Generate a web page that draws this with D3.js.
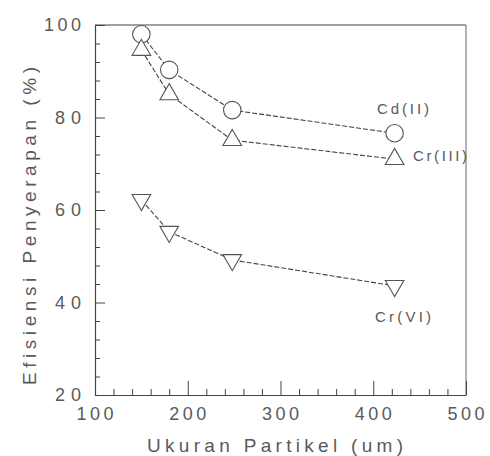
<!DOCTYPE html>
<html><head><meta charset="utf-8">
<script src="https://cdn.jsdelivr.net/npm/d3@7"></script>
<style>body{margin:0;background:#fff}svg{display:block}text{font-family:"Liberation Sans",Arial,sans-serif;fill:#5a5a5a}</style>
</head><body><svg id="c" width="490" height="456"></svg>
<script>
const particleSize = [150, 180, 248, 423];
const cdII  = [98, 90.3, 81.6, 76.6];
const crIII = [94.6, 85, 75.1, 71];
const crVI  = [62.2, 55.3, 49.2, 43.6];
const xTicks = [100, 200, 300, 400, 500];
const yTicks = [20, 40, 60, 80, 100];
const seriesNames = ["Cd(II)", "Cr(III)", "Cr(VI)"];

const svg = d3.select("#c");
const x = d3.scaleLinear().domain([100, 500]).range([95, 466]);
const y = d3.scaleLinear().domain([20, 100]).range([395, 25]);
const stroke = "#444";

// frame
svg.append("line").attr("x1", x(100)).attr("x2", x(500)).attr("y1", y(100)).attr("y2", y(100)).attr("stroke", stroke).attr("stroke-width", 1.2);
svg.append("line").attr("x1", x(500)).attr("x2", x(500)).attr("y1", y(100)).attr("y2", y(20)).attr("stroke", "#666").attr("stroke-width", 1);

// left axis (ticks inward)
const yAxis = d3.axisRight(y).tickValues(d3.range(20, 100.1, 4)).tickSize(0).tickFormat("");
const gy = svg.append("g").attr("transform", `translate(${x(100)},0)`).call(yAxis);
gy.select(".domain").attr("stroke", stroke).attr("stroke-width", 1.2);
gy.selectAll(".tick line").attr("x2", d => (d % 20 === 0 ? 10 : 5)).attr("stroke", stroke);
yTicks.forEach(v => {
  svg.append("text").attr("x", 81).attr("y", y(v) + 6).attr("text-anchor", "end")
    .attr("font-size", 18).attr("textLength", v === 100 ? 37 : 26).attr("lengthAdjust", "spacing").text(v);
});

// bottom axis (ticks inward)
const xAxis = d3.axisTop(x).tickValues(d3.range(100, 500.1, 20)).tickSize(0).tickFormat("");
const gx = svg.append("g").attr("transform", `translate(0,${y(20)})`).call(xAxis);
gx.select(".domain").attr("stroke", stroke).attr("stroke-width", 1.2);
gx.selectAll(".tick line").attr("y2", d => (d % 100 === 0 ? -14 : -6)).attr("stroke", stroke);
xTicks.forEach(v => {
  svg.append("text").attr("x", x(v)).attr("y", 420).attr("text-anchor", "middle")
    .attr("font-size", 18).attr("textLength", 37).attr("lengthAdjust", "spacing").text(v);
});

// axis titles
svg.append("text").attr("x", 275).attr("y", 452).attr("text-anchor", "middle")
  .attr("font-size", 19).attr("textLength", 256).attr("lengthAdjust", "spacing").text("Ukuran Partikel (um)");
svg.append("text").attr("transform", "translate(36,226) rotate(-90)").attr("text-anchor", "middle")
  .attr("font-size", 19).attr("textLength", 318).attr("lengthAdjust", "spacing").text("Efisiensi Penyerapan (%)");

// series
const series = [
  {name: seriesNames[0], vals: cdII, sym: d3.symbolCircle, rot: 0, size: 240},
  {name: seriesNames[1], vals: crIII, sym: d3.symbolTriangle, rot: 0, size: 150},
  {name: seriesNames[2], vals: crVI, sym: d3.symbolTriangle, rot: 180, size: 150}
];
const line = d3.line().x(d => x(d[0])).y(d => y(d[1]));
series.forEach(s => {
  const pts = particleSize.map((p, i) => [p, s.vals[i]]);
  svg.append("path").attr("d", line(pts)).attr("fill", "none").attr("stroke", stroke)
    .attr("stroke-width", 1.1).attr("stroke-dasharray", "5,2");
  svg.selectAll(null).data(pts).enter().append("path")
    .attr("d", d3.symbol().type(s.sym).size(s.size))
    .attr("transform", d => `translate(${x(d[0])},${y(d[1])}) rotate(${s.rot})`)
    .attr("fill", "#fff").attr("stroke", "#555").attr("stroke-width", 1.1);
});

// series labels
svg.append("text").attr("x", 403).attr("y", 114).attr("text-anchor", "middle").attr("font-size", 15)
  .attr("textLength", 52).attr("lengthAdjust", "spacing").text(seriesNames[0]);
svg.append("text").attr("x", 440).attr("y", 161).attr("text-anchor", "middle").attr("font-size", 15)
  .attr("textLength", 54).attr("lengthAdjust", "spacing").text(seriesNames[1]);
svg.append("text").attr("x", 403).attr("y", 322).attr("text-anchor", "middle").attr("font-size", 15)
  .attr("textLength", 56).attr("lengthAdjust", "spacing").text(seriesNames[2]);
</script></body></html>
